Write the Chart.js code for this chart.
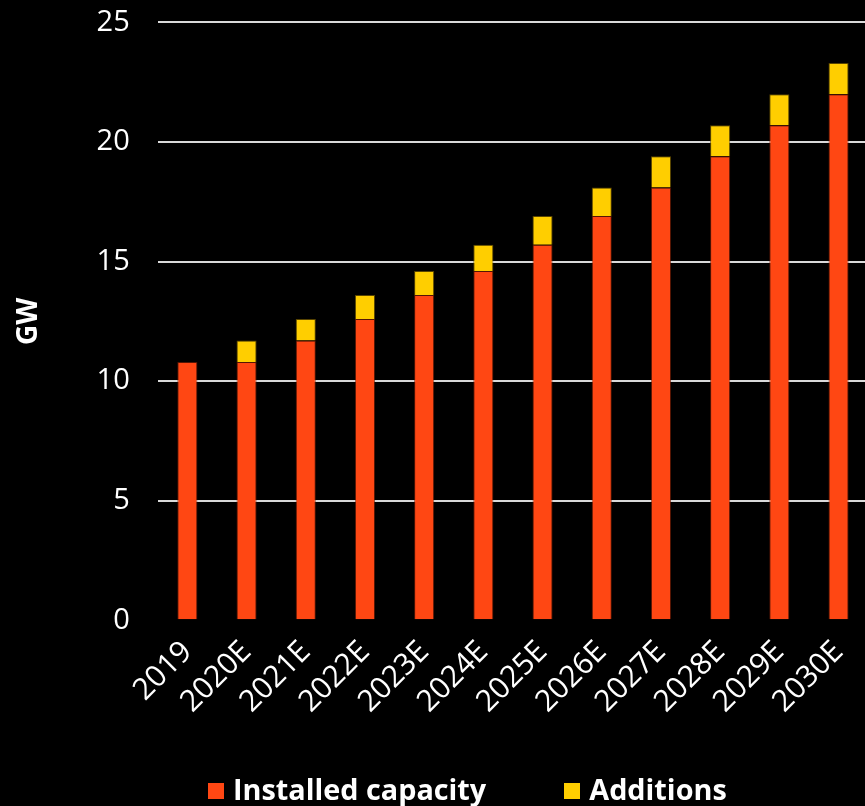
<!DOCTYPE html>
<html>
<head>
<meta charset="utf-8">
<script src="https://cdn.jsdelivr.net/npm/chart.js@4.4.1/dist/chart.umd.min.js"></script>
<style>
    html, body { margin: 0; padding: 0; background: #000; }
    #wrap { position: relative; width: 865px; height: 806px; overflow: hidden; }
    #legend {
        position: absolute; left: 208px; top: 769px;
        font-family: "Open Sans", sans-serif; font-weight: 700; font-size: 28.8px;
        color: #fff; white-space: nowrap;
    }
    #legend span.item { display: inline-block; margin-right: 78px; }
    #legend span.box { display: inline-block; width: 16px; height: 16px; margin-right: 9px; vertical-align: 1px; }
</style>
</head>
<body>
<div id="wrap">
    <!-- lienzo algo más ancho: el área del gráfico sobrepasa el borde derecho -->
    <canvas id="chart" width="878" height="806"></canvas>
    <div id="legend"></div>
</div>
<script>
// Datos del gráfico
const years = ["2019", "2020E", "2021E", "2022E", "2023E", "2024E", "2025E", "2026E", "2027E", "2028E", "2029E", "2030E"];
const installedCapacity = [10.8, 10.8, 11.7, 12.6, 13.6, 14.6, 15.7, 16.9, 18.1, 19.4, 20.7, 22.0];
const additions = [0, 0.9, 0.9, 1.0, 1.0, 1.1, 1.2, 1.2, 1.3, 1.3, 1.3, 1.3];
const yTicks = [0, 5, 10, 15, 20, 25];

const ORANGE = "#ff4713";
const YELLOW = "#ffce00";
const FONT = "'Open Sans', sans-serif";

const ctx = document.getElementById("chart").getContext("2d");

const chartInstance = new Chart(ctx, {
    type: "bar",
    data: {
        labels: years,
        datasets: [
            {
                label: "Installed capacity",
                data: installedCapacity,
                backgroundColor: ORANGE,
                borderColor: "rgba(120, 30, 5, 0.7)",
                borderWidth: 1,
                borderSkipped: "bottom",
                barPercentage: 0.34,
                categoryPercentage: 1,
            },
            {
                label: "Additions",
                data: additions,
                backgroundColor: YELLOW,
                borderColor: "rgba(110, 85, 0, 0.8)",
                borderWidth: 1,
                borderSkipped: "bottom",
                barPercentage: 0.34,
                categoryPercentage: 1,
            },
        ],
    },
    options: {
        responsive: false,
        animation: false,
        layout: { padding: { top: 0, right: 0, bottom: 72, left: 0 } },
        plugins: {
            legend: { display: false },
            tooltip: { enabled: false },
        },
        scales: {
            x: {
                stacked: true,
                grid: { display: false, drawTicks: false },
                border: { display: false },
                ticks: {
                    color: "#fff",
                    font: { family: FONT, size: 30 },
                    minRotation: 45,
                    maxRotation: 45,
                    padding: 14,
                    autoSkip: false,
                },
            },
            y: {
                stacked: true,
                min: 0,
                max: 25,
                afterBuildTicks: axis => {
                    axis.ticks = yTicks.map(v => ({ value: v }));
                },
                grid: {
                    color: ctx => (ctx.tick && ctx.tick.value === 0 ? "rgba(0,0,0,0)" : "#d9d9d9"),
                    lineWidth: 2,
                    drawTicks: true,
                    tickLength: 23,
                    tickColor: "rgba(0,0,0,0)",
                },
                border: { display: false },
                ticks: {
                    color: "#fff",
                    font: { family: FONT, size: 29 },
                    padding: 5,
                },
                title: {
                    display: true,
                    text: "GW",
                    color: "#fff",
                    font: { family: FONT, size: 28, weight: "bold" },
                    padding: { top: 12, bottom: 46 },
                },
            },
        },
    },
});

// Leyenda en HTML con los colores de los datasets
const legendEl = document.getElementById("legend");
chartInstance.data.datasets.forEach(ds => {
    const item = document.createElement("span");
    item.className = "item";
    item.innerHTML = `<span class="box" style="background:${ds.backgroundColor}"></span>${ds.label}`;
    legendEl.appendChild(item);
});
</script>
</body>
</html>
